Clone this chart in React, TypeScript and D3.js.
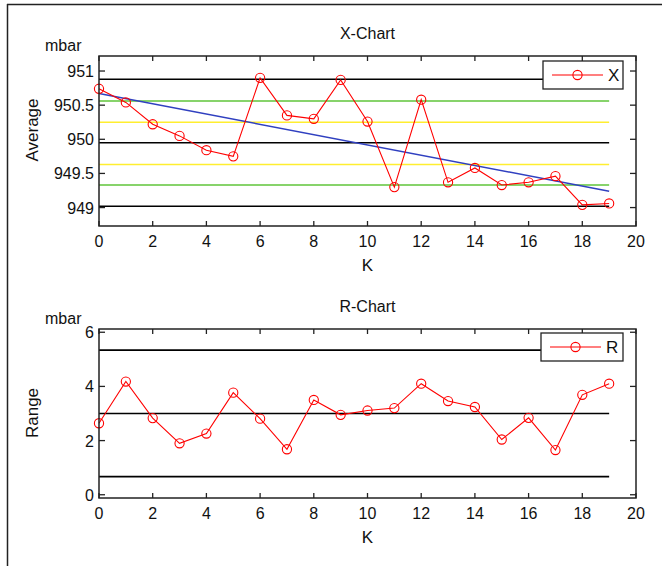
import React from "react";
import * as d3 from "d3";

const K: number[] = [0, 1, 2, 3, 4, 5, 6, 7, 8, 9, 10, 11, 12, 13, 14, 15, 16, 17, 18, 19];
const xValues: number[] = [950.74, 950.54, 950.22, 950.05, 949.84, 949.75, 950.9, 950.35, 950.3, 950.87, 950.26, 949.3, 950.58, 949.37, 949.58, 949.33, 949.37, 949.46, 949.04, 949.06];
const rValues: number[] = [2.64, 4.18, 2.83, 1.9, 2.26, 3.77, 2.81, 1.68, 3.5, 2.95, 3.11, 3.2, 4.1, 3.46, 3.24, 2.04, 2.84, 1.65, 3.69, 4.1];

// X-chart control limits: [value, colour]
const xLimitValues: number[] = [950.88, 950.56, 950.25, 949.95, 949.63, 949.33, 949.02];
const xLimitColors: string[] = ["#000000", "#5fc43a", "#ffee30", "#000000", "#ffee30", "#5fc43a", "#000000"];
// trend line end points (at K=0 and K=19)
const trendK: number[] = [0, 19];
const trendValues: number[] = [950.67, 949.24];
// R-chart control limits
const rLimitValues: number[] = [5.34, 3.0, 0.67];

const xTicks: number[] = [0, 2, 4, 6, 8, 10, 12, 14, 16, 18, 20];
const yTicksX: number[] = [949, 949.5, 950, 950.5, 951];
const yTickLabelsX: string[] = ["949", "949.5", "950", "950.5", "951"];
const yTicksR: number[] = [0, 2, 4, 6];
const yTickLabelsR: string[] = ["0", "2", "4", "6"];

const FONT = "'Liberation Sans', Arial, Helvetica, sans-serif";

type PanelProps = {
  top: number;
  bottom: number;
  yDomain: [number, number];
  values: number[];
  yTicks: number[];
  yTickLabels: string[];
  title: string;
  ylabel: string;
  ylabelCenter: number;
  legendLabel: string;
  legendBox: [number, number, number, number];
  limits: { v: number; c: string }[];
  trend?: { k: number; v: number }[];
};

const LEFT = 99;
const RIGHT = 636;

function Panel(p: PanelProps) {
  const x = d3.scaleLinear().domain([0, 20]).range([LEFT, RIGHT]);
  const y = d3.scaleLinear().domain(p.yDomain).range([p.bottom, p.top]);
  const line = d3
    .line<number>()
    .x((_, i) => x(K[i]))
    .y((d) => y(d));
  const trendLine = d3
    .line<{ k: number; v: number }>()
    .x((d) => x(d.k))
    .y((d) => y(d.v));
  const [lx0, ly0, lx1, ly1] = p.legendBox;
  const lyMid = (ly0 + ly1) / 2;
  return (
    <g>
      <text x={(LEFT + RIGHT) / 2} y={p.top - 17} textAnchor="middle" fontSize={16} fontFamily={FONT} fill="#111">
        {p.title}
      </text>
      <text x={45} y={p.top - 5} fontSize={16} fontFamily={FONT} fill="#111">
        mbar
      </text>
      <text
        transform={`translate(38,${p.ylabelCenter}) rotate(-90)`}
        textAnchor="middle"
        fontSize={17}
        fontFamily={FONT}
        fill="#111"
      >
        {p.ylabel}
      </text>
      <text x={(LEFT + RIGHT) / 2} y={p.bottom + 45} textAnchor="middle" fontSize={17} fontFamily={FONT} fill="#111">
        K
      </text>
      {/* control limits */}
      {p.limits.map((l, i) => (
        <line key={i} x1={x(0)} x2={x(19)} y1={y(l.v)} y2={y(l.v)} stroke={l.c} strokeWidth={1.6} />
      ))}
      {p.trend && <path d={trendLine(p.trend) || ""} fill="none" stroke="#3040c0" strokeWidth={1.5} />}
      <path d={line(p.values) || ""} fill="none" stroke="#ff0000" strokeWidth={1.1} />
      {p.values.map((v, i) => (
        <circle key={i} cx={x(K[i])} cy={y(v)} r={4.6} fill="none" stroke="#ff0000" strokeWidth={1.1} />
      ))}
      {/* axes box */}
      <rect x={LEFT} y={p.top} width={RIGHT - LEFT} height={p.bottom - p.top} fill="none" stroke="#222" strokeWidth={1.5} />
      {xTicks.map((t) => (
        <g key={"xt" + t}>
          <line x1={x(t)} x2={x(t)} y1={p.bottom} y2={p.bottom - 5} stroke="#222" strokeWidth={1.3} />
          <line x1={x(t)} x2={x(t)} y1={p.top} y2={p.top + 5} stroke="#222" strokeWidth={1.3} />
          <text x={x(t)} y={p.bottom + 21} textAnchor="middle" fontSize={16} fontFamily={FONT} fill="#111">
            {t}
          </text>
        </g>
      ))}
      {p.yTicks.map((t, i) => (
        <g key={"yt" + t}>
          <line x1={LEFT} x2={LEFT + 6} y1={y(t)} y2={y(t)} stroke="#222" strokeWidth={1.3} />
          <line x1={RIGHT} x2={RIGHT - 6} y1={y(t)} y2={y(t)} stroke="#222" strokeWidth={1.3} />
          <text x={94} y={y(t) + 6} textAnchor="end" fontSize={16} fontFamily={FONT} fill="#111">
            {p.yTickLabels[i]}
          </text>
        </g>
      ))}
      {/* legend */}
      <rect x={lx0} y={ly0} width={lx1 - lx0} height={ly1 - ly0} fill="#fff" stroke="#222" strokeWidth={1.3} />
      <line x1={lx0 + 9} x2={lx0 + 60} y1={lyMid} y2={lyMid} stroke="#ff0000" strokeWidth={1.1} />
      <circle cx={lx0 + 34.5} cy={lyMid} r={4.6} fill="none" stroke="#ff0000" strokeWidth={1.1} />
      <text x={lx0 + 65} y={lyMid + 6} fontSize={17} fontFamily={FONT} fill="#111">
        {p.legendLabel}
      </text>
    </g>
  );
}

export default function App() {
  const xLimits = xLimitValues.map((v, i) => ({ v, c: xLimitColors[i] }));
  const rLimits = rLimitValues.map((v) => ({ v, c: "#000000" }));
  const trend = trendK.map((k, i) => ({ k, v: trendValues[i] }));
  return (
    <svg
      width={662}
      height={566}
      style={{ position: "absolute", left: 0, top: 0, background: "#fff" }}
    >
      <rect x={0} y={0} width={662} height={566} fill="#fff" />
      <line x1={7} x2={662} y1={4.5} y2={4.5} stroke="#222" strokeWidth={1.5} />
      <line x1={7.5} x2={7.5} y1={4} y2={566} stroke="#222" strokeWidth={1.5} />
      <Panel
        top={56}
        bottom={226}
        yDomain={[948.73, 951.22]}
        values={xValues}
        yTicks={yTicksX}
        yTickLabels={yTickLabelsX}
        title="X-Chart"
        ylabel="Average"
        ylabelCenter={130}
        legendLabel="X"
        legendBox={[543, 61, 623, 89]}
        limits={xLimits}
        trend={trend}
      />
      <Panel
        top={329}
        bottom={498}
        yDomain={[-0.12, 6.12]}
        values={rValues}
        yTicks={yTicksR}
        yTickLabels={yTickLabelsR}
        title="R-Chart"
        ylabel="Range"
        ylabelCenter={413}
        legendLabel="R"
        legendBox={[541, 333, 623, 361]}
        limits={rLimits}
      />
    </svg>
  );
}
